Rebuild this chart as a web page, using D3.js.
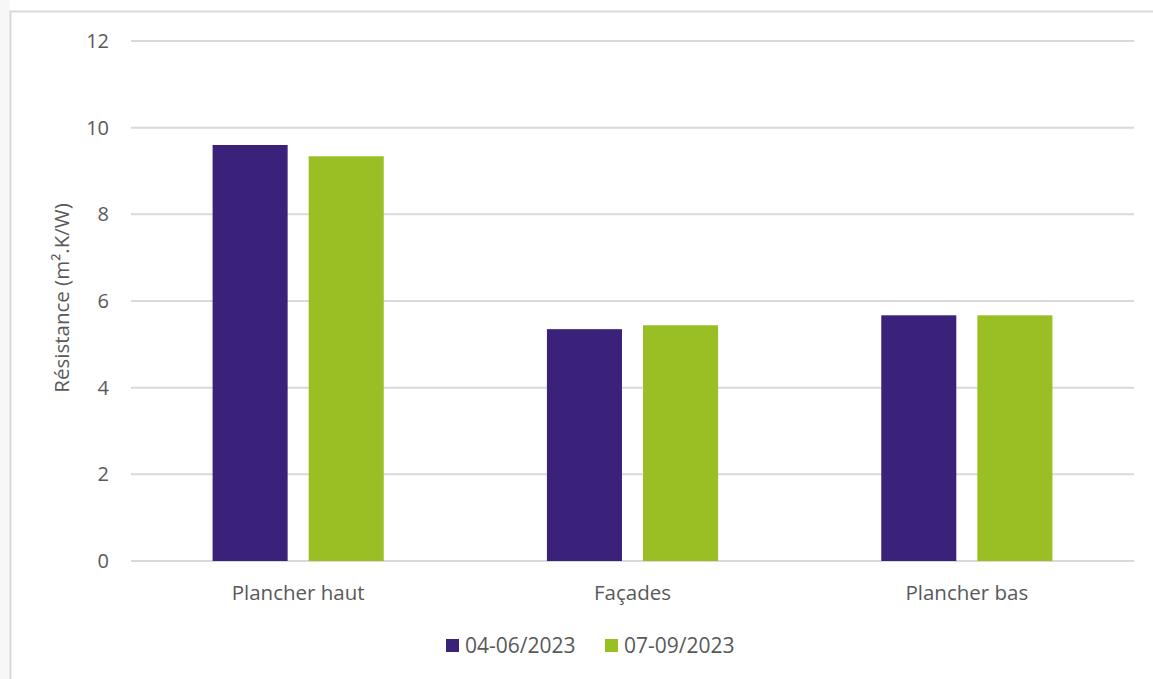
<!DOCTYPE html>
<html>
<head>
<meta charset="utf-8">
<script src="https://cdn.jsdelivr.net/npm/d3@7"></script>
<style>
  body { margin: 0; background: #fff; }
  text { font-family: "Open Sans", "DejaVu Sans", sans-serif; fill: #595959; }
</style>
</head>
<body>
<div class="chart"></div>
<script>
const categories = ['Plancher haut', 'Façades', 'Plancher bas'];
const seriesNames = ['04-06/2023', '07-09/2023'];
const seriesColors = ['#3a227b', '#9abf25'];
const values0406 = [9.6, 5.35, 5.67];
const values0709 = [9.34, 5.44, 5.67];
const yTicks = [0, 2, 4, 6, 8, 10, 12];

const seriesValues = [values0406, values0709];

const width = 1153, height = 679;
const margin = {top: 41, right: 19, bottom: 118, left: 131};

const svg = d3.select('.chart').append('svg')
	.attr('width', width)
	.attr('height', height);

// frame of the chart area
svg.append('rect').attr('x', 0).attr('y', 0).attr('width', 10).attr('height', height).style('fill', '#f7f7f7');
svg.append('path')
	.attr('d', 'M10.5,' + height + ' L10.5,11.5 L' + width + ',11.5')
	.style('stroke', '#d9d9d9').style('stroke-width', 2).style('fill', 'none');

const x0 = d3.scaleBand()
	.domain(categories)
	.range([margin.left, width - margin.right]);

const x1 = d3.scaleBand()
	.domain(seriesNames)
	.range([0, x0.bandwidth()])
	.paddingInner(0.219)
	.paddingOuter(0.849);

const y = d3.scaleLinear()
	.domain([0, 12])
	.range([height - margin.bottom, margin.top]);

// gridlines
svg.append('g')
	.attr('class', 'grid')
	.selectAll('line')
	.data(yTicks)
	.enter().append('line')
	.attr('x1', margin.left)
	.attr('x2', width - margin.right)
	.attr('y1', function(d){ return y(d) })
	.attr('y2', function(d){ return y(d) })
	.style('stroke', '#d9d9d9')
	.style('stroke-width', 2);

// y tick labels
svg.append('g')
	.selectAll('text')
	.data(yTicks)
	.enter().append('text')
	.attr('x', 109)
	.attr('y', function(d){ return y(d) + 7 })
	.style('text-anchor', 'end')
	.style('font-size', '20px')
	.text(function(d){ return d });

// bars
const groups = svg.append('g')
	.selectAll('g')
	.data(categories)
	.enter().append('g')
	.attr('transform', function(d){ return 'translate(' + x0(d) + ',0)' });

groups.selectAll('rect')
	.data(function(d, i){ return seriesNames.map(function(s, j){ return {series: s, value: seriesValues[j][i], color: seriesColors[j]} }) })
	.enter().append('rect')
	.attr('x', function(d){ return x1(d.series) })
	.attr('width', x1.bandwidth())
	.attr('y', function(d){ return y(d.value) })
	.attr('height', function(d){ return y(0) - y(d.value) })
	.style('fill', function(d){ return d.color });

// category labels
svg.append('g')
	.selectAll('text')
	.data(categories)
	.enter().append('text')
	.attr('x', function(d){ return x0(d) + x0.bandwidth() / 2 })
	.attr('y', 600)
	.style('text-anchor', 'middle')
	.style('font-size', '20.5px')
	.text(function(d){ return d });

// y axis title
svg.append('text')
	.attr('transform', 'translate(69,298) rotate(-90)')
	.style('text-anchor', 'middle')
	.style('font-size', '20.5px')
	.text('Résistance (m².K/W)');

// legend
const legend = svg.append('g')
	.selectAll('g')
	.data(seriesNames)
	.enter().append('g')
	.attr('transform', function(d, i){ return 'translate(' + (446 + i * 159) + ',639)' });

legend.append('rect')
	.attr('width', 13).attr('height', 13)
	.style('fill', function(d, i){ return seriesColors[i] });

legend.append('text')
	.attr('x', 19)
	.attr('y', 14)
	.style('font-size', '21px')
	.text(function(d){ return d });
</script>
</body>
</html>
